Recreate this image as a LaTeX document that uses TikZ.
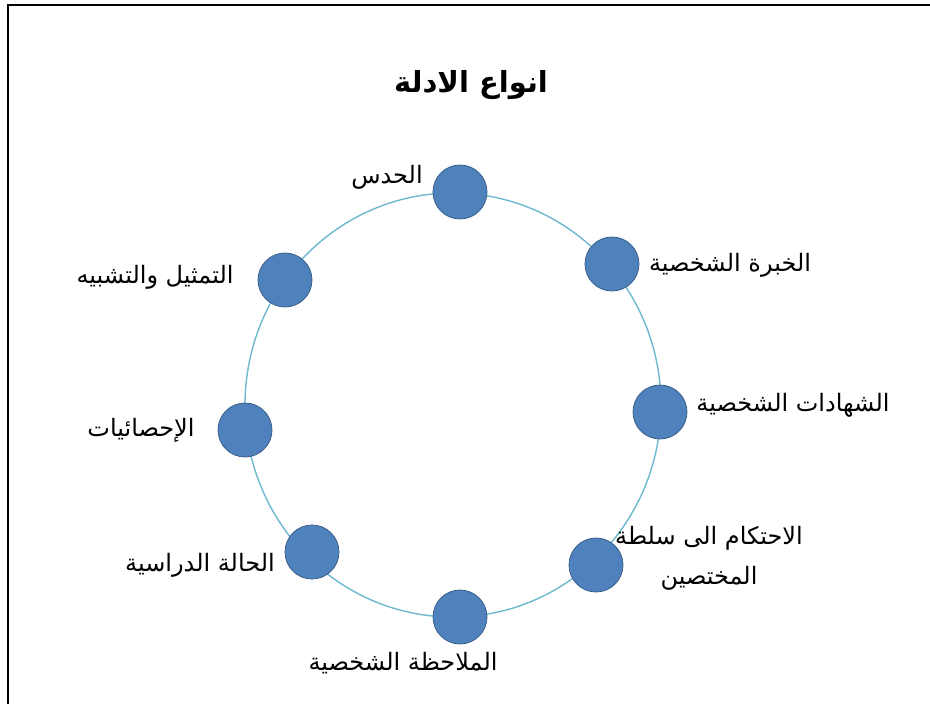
\documentclass[tikz,border=0pt]{standalone}
\usepackage{fontspec}
\newfontfamily\arabicfont[Script=Arabic]{DejaVu Sans}
\TeXXeTstate=1
\definecolor{nodeblue}{RGB}{79,129,189}
\definecolor{nodeedge}{RGB}{60,96,140}
\definecolor{ringcol}{RGB}{110,185,208}
\tikzset{
  dot/.style={circle, minimum size=54pt, inner sep=0pt, fill=nodeblue, draw=nodeedge, line width=0.8pt},
  lbl/.style={inner sep=0pt, font={\arabicfont\fontsize{24}{29}\selectfont}, text=black, align=center},
  ttl/.style={inner sep=0pt, font={\arabicfont\bfseries\fontsize{29}{34}\selectfont}, text=black},
  ringline/.style={draw=ringcol, line width=1.4pt},
  frame/.style={draw=black, line width=1.6pt}
}
\begin{document}
\begin{tikzpicture}[x=1pt, y=-1pt]
\useasboundingbox (0,0) rectangle (930,704);
\fill[white] (0,0) rectangle (930,704);
\coordinate (fa) at (8,704);
\coordinate (fb) at (8,5);
\coordinate (fc) at (930,5);
\draw[frame] (fa) -- (fb) -- (fc);
\node[ttl] (title) at (471,85) {\beginR انواع الادلة\endR};
\coordinate (ctr) at (453,405);
\draw[ringline] (ctr) ellipse [x radius=208pt, y radius=212pt];
\node[dot] (n1) at (460,192) {};
\node[dot] (n2) at (612,264) {};
\node[dot] (n3) at (660,412) {};
\node[dot] (n4) at (596,565) {};
\node[dot] (n5) at (460,617) {};
\node[dot] (n6) at (312,552) {};
\node[dot] (n7) at (245,430) {};
\node[dot] (n8) at (285,280) {};
\node[lbl] (l1) at (387,177) {\beginR الحدس\endR};
\node[lbl] (l2) at (730,265) {\beginR الخبرة الشخصية\endR};
\node[lbl] (l3) at (793,405) {\beginR الشهادات الشخصية\endR};
\node[lbl] (l4) at (709,558) {\beginR الاحتكام الى سلطة\endR\\[11pt]\beginR المختصين\endR};
\node[lbl] (l5) at (403,663) {\beginR الملاحظة الشخصية\endR};
\node[lbl] (l6) at (200,565) {\beginR الحالة الدراسية\endR};
\node[lbl] (l7) at (141,430) {\beginR الإحصائيات\endR};
\node[lbl] (l8) at (155,277) {\beginR التمثيل والتشبيه\endR};
\end{tikzpicture}
\end{document}
